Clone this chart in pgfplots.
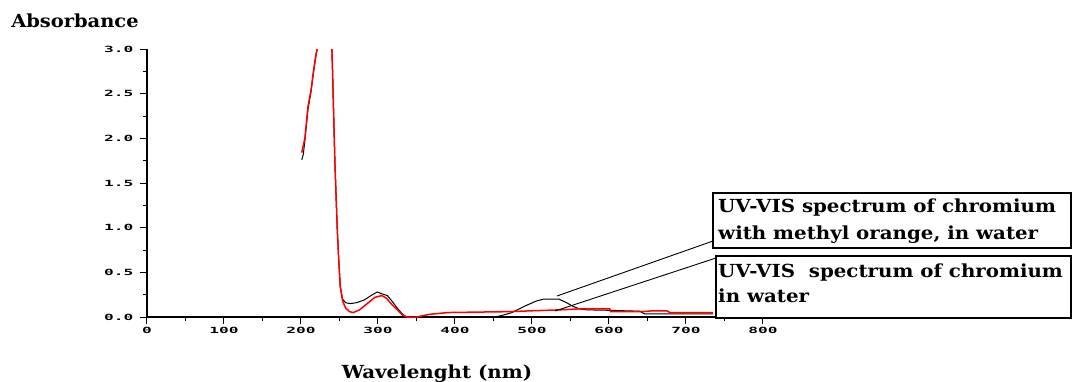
\documentclass[border=0pt]{standalone}
\usepackage{fontspec}
\usepackage{pgfplots}
\pgfplotsset{compat=1.18}
\setmainfont{DejaVu Serif}
\newfontfamily\tickfont{DejaVu Sans Mono}

\begin{document}
\begin{tikzpicture}[x=1pt,y=1pt]
\useasboundingbox (-147,-64) rectangle (926,317);
\begin{axis}[
  at={(0,0)}, anchor=south west,
  scale only axis, width=616pt, height=268pt,
  xmin=0, xmax=800, ymin=0, ymax=3.0,
  axis x line=bottom, axis y line=left,
  axis line style={-, line width=1.6pt, black},
  xtick={0,100,...,800}, ytick={0,0.5,...,3.0},
  minor x tick num=1, minor y tick num=1,
  tick align=outside,
  major tick length=7pt, minor tick length=4pt,
  tick style={line width=1pt, black},
  /pgf/number format/assume math mode=true,
  yticklabel style={/pgf/number format/.cd, fixed, fixed zerofill, precision=1},
  ticklabel style={font=\tickfont\bfseries\fontsize{8.5}{8.5}\selectfont, xscale=1.9},
  clip=true,
]
% chromium with methyl orange, in water
\addplot[black, line width=1pt] coordinates {
(201,1.76) (203,1.82) (205,1.97) (209,2.32) (213,2.52) (216,2.72) (219,2.9) (221,3.0)
(226,3.5) (233,3.6) (238,3.4) (240,3.05) (241,2.74) (244,1.74) (247,1.0) (249,0.64)
(251,0.34) (254,0.2) (258,0.16) (264,0.15) (272,0.16) (282,0.19) (291,0.24) (299,0.28)
(305,0.26) (312,0.24) (318,0.18) (325,0.1) (332,0.03) (337,0.0) (350,0) (400,0)
(452,0.0) (462,0.02) (474,0.05) (490,0.12) (506,0.18) (515,0.2) (535,0.2) (545,0.16)
(553,0.12) (562,0.09) (571,0.08) (600,0.075) (640,0.065) (646,0.035) (700,0.035) (735,0.035)
};
% chromium in water
\addplot[red, line width=1.5pt] coordinates {
(201,1.84) (205,2.0) (209,2.35) (213,2.54) (216,2.74) (219,2.92) (221,3.0)
(226,3.5) (233,3.6) (238,3.4) (240,3.05) (241,2.74) (244,1.74) (247,1.0) (249,0.64)
(251,0.34) (254,0.18) (258,0.1) (263,0.06) (268,0.05) (276,0.08) (286,0.15) (296,0.22)
(305,0.24) (311,0.21) (318,0.14) (325,0.08) (332,0.02) (338,0.0) (350,0) (367,0.03)
(391,0.05) (430,0.055) (471,0.06) (501,0.07) (536,0.08) (560,0.09) (601,0.09)
(602,0.06) (644,0.06) (657,0.07) (675,0.07) (679,0.05) (735,0.05)
};
\end{axis}
% axis titles
\node[font=\bfseries\fontsize{18}{20}\selectfont, anchor=base, xscale=1.08] at (-72,289) {Absorbance};
\node[font=\bfseries\fontsize{18}{20}\selectfont, anchor=base, xscale=1.1] at (290,-61) {Wavelenght (nm)};
% callout lines and boxes
\draw[line width=0.9pt] (410,21) -- (566,76);
\draw[line width=0.9pt] (408,6) -- (569,59);
\draw[line width=1.6pt, fill=white] (566,124) rectangle (924,69);
\draw[line width=1.6pt, fill=white] (569,61) rectangle (924,-1);
\begin{scope}[every node/.style={font=\bfseries\fontsize{18}{20}\selectfont, anchor=base west, inner sep=0pt, xscale=1.1}]
\node at (571,105) {UV-VIS spectrum of chromium};
\node at (571,78) {with methyl orange, in water};
\node at (571,40) {UV-VIS\ \ spectrum of chromium};
\node at (571,15) {in water};
\end{scope}
\end{tikzpicture}
\end{document}
